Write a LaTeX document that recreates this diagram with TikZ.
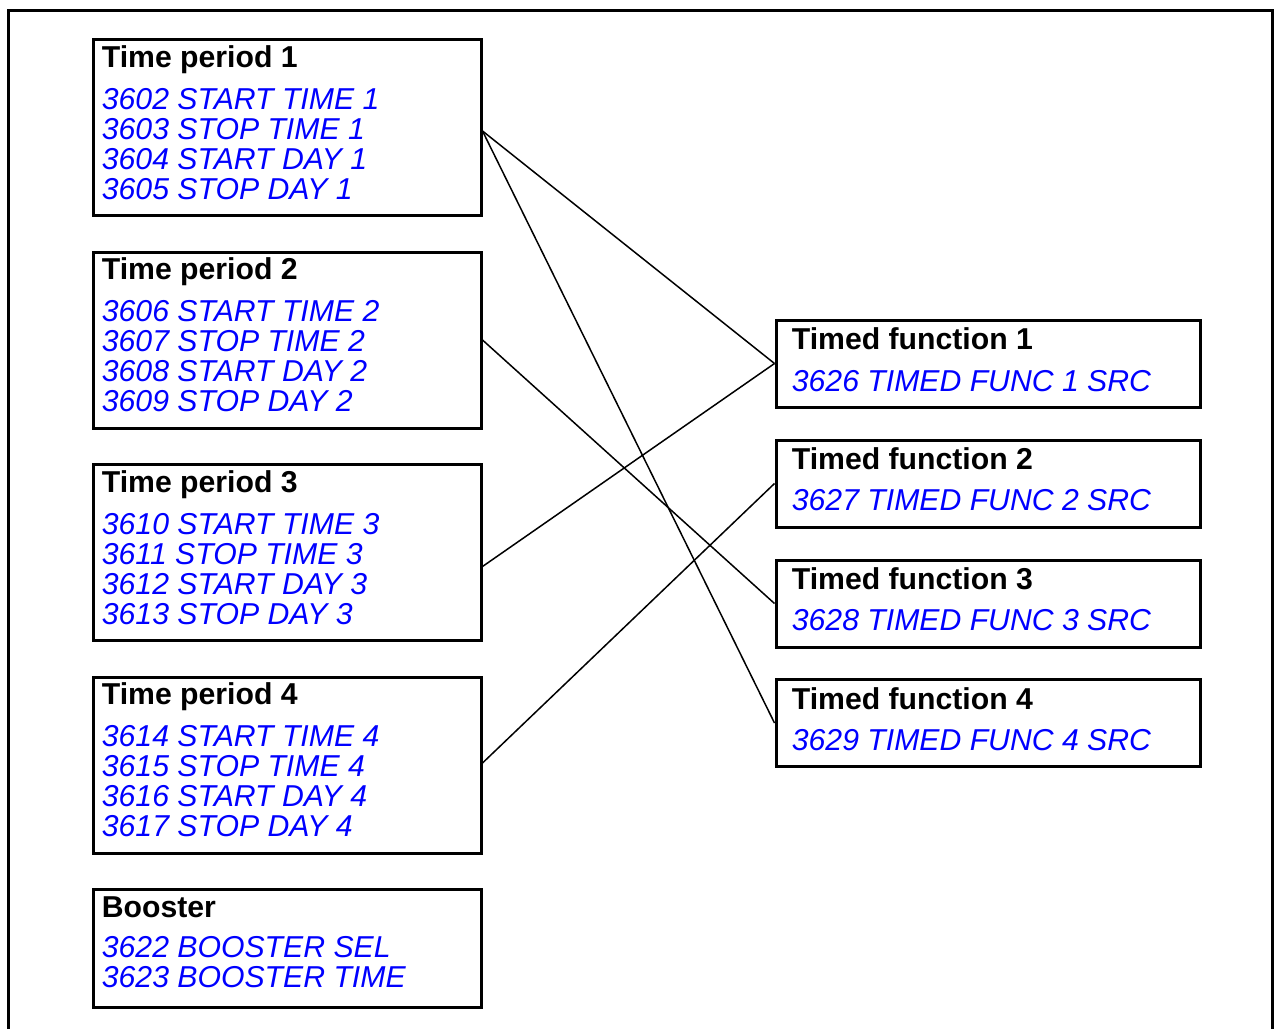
\documentclass[tikz,border=0pt]{standalone}
\usepackage{fontspec}
\setmainfont{Liberation Sans}
\usetikzlibrary{calc}
\definecolor{ParamBlue}{HTML}{0000FF}

\begin{document}
\begin{tikzpicture}[x=0.5pt, y=-0.5pt,
  every node/.style={font=\fontsize{15.1}{15}\selectfont},
  grp/.style={draw, line width=1.5pt, minimum width=194pt,
              minimum height=88pt, inner sep=0pt},
  fnc/.style={draw, line width=1.5pt, minimum width=212pt,
              minimum height=43.5pt, inner sep=0pt},
  hdr/.style={anchor=base west, inner sep=0pt,
              font=\fontsize{15.1}{15}\selectfont\bfseries},
  prm/.style={anchor=base west, inner sep=0pt, align=left, text=ParamBlue,
              font=\fontsize{15.1}{15}\selectfont\itshape},
  link/.style={line width=0.75pt},
]
  \useasboundingbox (0,0) rectangle (1278,1028);

  % Outer frame
  \draw[line width=1.5pt] (8,1060) -- (8,10) -- (1272,10) -- (1272,1060);

  % Time periods
  \node[grp] (tp1) at (287,127.5) {};
  \node[grp] (tp2) at (287,340) {};
  \node[grp] (tp3) at (287,552.5) {};
  \node[grp] (tp4) at (287,765) {};
  \node[grp, minimum height=59pt] (bst) at (287,948) {};

  % (prm nodes sit on the baseline of their last line)
  \node[hdr] (tp1h) at ($(tp1.north west)+(10,29)$) {Time period 1};
  \node[prm] (tp1p) at ($(tp1.north west)+(10,161)$)
    {3602 START TIME 1\\3603 STOP TIME 1\\3604 START DAY 1\\3605 STOP DAY 1};
  \node[hdr] (tp2h) at ($(tp2.north west)+(10,29)$) {Time period 2};
  \node[prm] (tp2p) at ($(tp2.north west)+(10,161)$)
    {3606 START TIME 2\\3607 STOP TIME 2\\3608 START DAY 2\\3609 STOP DAY 2};
  \node[hdr] (tp3h) at ($(tp3.north west)+(10,29)$) {Time period 3};
  \node[prm] (tp3p) at ($(tp3.north west)+(10,161)$)
    {3610 START TIME 3\\3611 STOP TIME 3\\3612 START DAY 3\\3613 STOP DAY 3};
  \node[hdr] (tp4h) at ($(tp4.north west)+(10,29)$) {Time period 4};
  \node[prm] (tp4p) at ($(tp4.north west)+(10,161)$)
    {3614 START TIME 4\\3615 STOP TIME 4\\3616 START DAY 4\\3617 STOP DAY 4};
  \node[hdr] (bsth) at ($(bst.north west)+(10,30)$) {Booster};
  \node[prm] (bstp) at ($(bst.north west)+(10,100)$)
    {3622 BOOSTER SEL\\3623 BOOSTER TIME};

  % Timed functions
  \node[fnc] (tf1) at (988,363.5) {};
  \node[fnc] (tf2) at (988,483.5) {};
  \node[fnc] (tf3) at (988,603.5) {};
  \node[fnc] (tf4) at (988,723) {};

  \node[hdr] (tf1h) at ($(tf1.north west)+(17,31)$) {Timed function 1};
  \node[prm] (tf1p) at ($(tf1.north west)+(17,73)$) {3626 TIMED FUNC 1 SRC};
  \node[hdr] (tf2h) at ($(tf2.north west)+(17,31)$) {Timed function 2};
  \node[prm] (tf2p) at ($(tf2.north west)+(17,72)$) {3627 TIMED FUNC 2 SRC};
  \node[hdr] (tf3h) at ($(tf3.north west)+(17,31)$) {Timed function 3};
  \node[prm] (tf3p) at ($(tf3.north west)+(17,72)$) {3628 TIMED FUNC 3 SRC};
  \node[hdr] (tf4h) at ($(tf4.north west)+(17,31)$) {Timed function 4};
  \node[prm] (tf4p) at ($(tf4.north west)+(17,72)$) {3629 TIMED FUNC 4 SRC};

  % Links
  \draw[link] ([yshift=-1.75pt]tp1.east) -- (tf1.west);
  \draw[link] ([yshift=-1.75pt]tp1.east) -- (tf4.west);
  \draw[link] (tp2.east) -- (tf3.west);
  \draw[link] ([yshift=-7pt]tp3.east) -- (tf1.west);
  \draw[link] ([yshift=1pt]tp4.east) -- (tf2.west);
\end{tikzpicture}
\end{document}
